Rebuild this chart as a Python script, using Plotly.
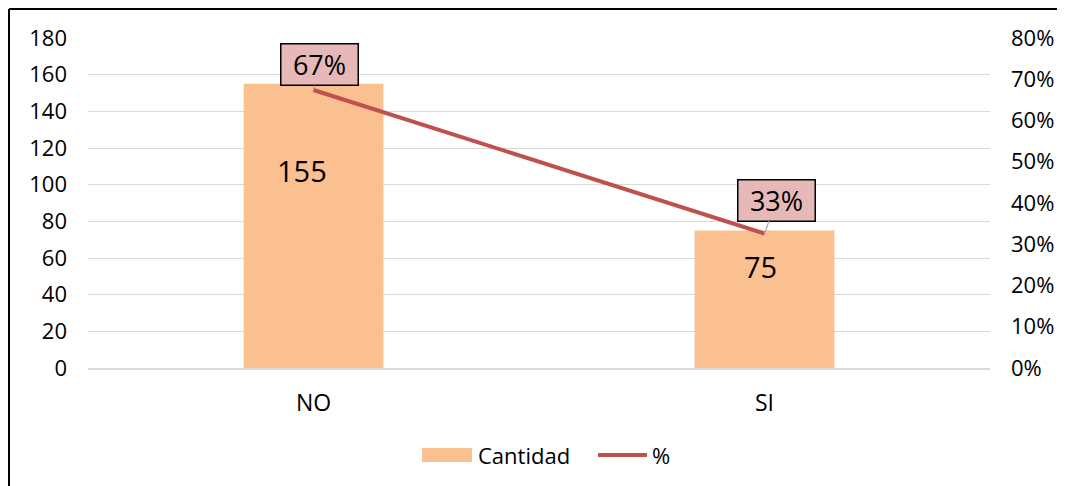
import plotly.graph_objects as go

categories = ["NO", "SI"]
cantidad = [155, 75]
porcentaje = [0.674, 0.326]
pct_labels = ["67%", "33%"]
y_ticks = [0, 20, 40, 60, 80, 100, 120, 140, 160, 180]
y2_ticks = [0, 0.1, 0.2, 0.3, 0.4, 0.5, 0.6, 0.7, 0.8]
y2_ticklabels = ["0%", "10%", "20%", "30%", "40%", "50%", "60%", "70%", "80%"]

FONT = "Open Sans"
BAR_COLOR = "#FAC090"
LINE_COLOR = "#C0504D"

# page body has an 8px margin: figure pixel = screen pixel - 8
OFF = 8
W, H = 1057, 478
L, T = 88 - OFF, 38 - OFF
PR, PB = 990 - OFF, 368 - OFF
R, B = W - PR, H - PB
pw, ph = PR - L, PB - T


def px(sx):
    return (sx - OFF - L) / pw


def py(sy):
    return (PB - (sy - OFF)) / ph


fig = go.Figure()
fig.add_trace(go.Bar(x=categories, y=cantidad, name="Cantidad",
                     marker=dict(color=BAR_COLOR, line=dict(width=0)),
                     width=0.31, yaxis="y", showlegend=False))
fig.add_trace(go.Scatter(x=categories, y=porcentaje, name="%", mode="lines",
                         line=dict(color=LINE_COLOR, width=4), yaxis="y2",
                         showlegend=False))

# bar value labels (inside the bars)
label_frac = [0.694, 0.735]
label_xshift = [-12, -4]
for c, v, f, xs in zip(categories, cantidad, label_frac, label_xshift):
    fig.add_annotation(x=c, y=v * f, xref="x", yref="y",
                       text=str(v), showarrow=False, xshift=xs,
                       font=dict(family=FONT, size=29, color="#000000"))

# percentage callouts
offsets = [(6, -25), (12, -33)]
for c, p, t, (ax, ay) in zip(categories, porcentaje, pct_labels, offsets):
    fig.add_annotation(x=c, y=p, xref="x", yref="y2", text=t,
                       showarrow=True, arrowhead=0, arrowwidth=1.2, arrowcolor="#A6A6A6",
                       ax=ax, ay=ay, standoff=0,
                       width=72, height=36, align="center", valign="middle",
                       bgcolor="#E6B9B8", bordercolor="#000000", borderwidth=1.5,
                       borderpad=2,
                       font=dict(family=FONT, size=27, color="#000000"))

# outer border (left and top visible)
fig.add_shape(type="line", xref="paper", yref="paper", x0=px(9), x1=px(9),
              y0=py(500), y1=py(9), line=dict(color="#000000", width=2))
fig.add_shape(type="line", xref="paper", yref="paper", x0=px(9), x1=px(1080),
              y0=py(9), y1=py(9), line=dict(color="#000000", width=2))

# legend (drawn to match the original swatches)
fig.add_shape(type="rect", xref="paper", yref="paper", x0=px(422), x1=px(472),
              y0=py(462), y1=py(448), fillcolor=BAR_COLOR, line=dict(width=0))
fig.add_shape(type="line", xref="paper", yref="paper", x0=px(598), x1=px(647),
              y0=py(455), y1=py(455), line=dict(color=LINE_COLOR, width=4))
fig.add_annotation(xref="paper", yref="paper", x=px(476), y=py(455), text="Cantidad",
                   showarrow=False, xanchor="left", yanchor="middle",
                   font=dict(family=FONT, size=22, color="#000000"))
fig.add_annotation(xref="paper", yref="paper", x=px(650), y=py(455), text="%",
                   showarrow=False, xanchor="left", yanchor="middle",
                   font=dict(family=FONT, size=22, color="#000000"))

fig.update_layout(
    width=W, height=H,
    margin=dict(l=L, r=R, t=T, b=B),
    paper_bgcolor="#FFFFFF", plot_bgcolor="#FFFFFF",
    font=dict(family=FONT, size=22, color="#000000"),
    showlegend=False,
    xaxis=dict(showgrid=False, showline=True, linecolor="#D9D9D9", linewidth=1.5,
               ticks="", ticklabelstandoff=14, tickfont=dict(size=23)),
    yaxis=dict(range=[0, 180], tickvals=y_ticks, showgrid=True, gridcolor="#D9D9D9",
               gridwidth=1, zeroline=False, showline=False, ticks="",
               ticklabelstandoff=20, tickfont=dict(size=22)),
    yaxis2=dict(range=[0, 0.8], tickvals=y2_ticks, ticktext=y2_ticklabels,
                overlaying="y", side="right", showgrid=False, zeroline=False,
                showline=False, ticks="", ticklabelstandoff=20,
                tickfont=dict(size=22)),
)

fig.write_html("out.html")
